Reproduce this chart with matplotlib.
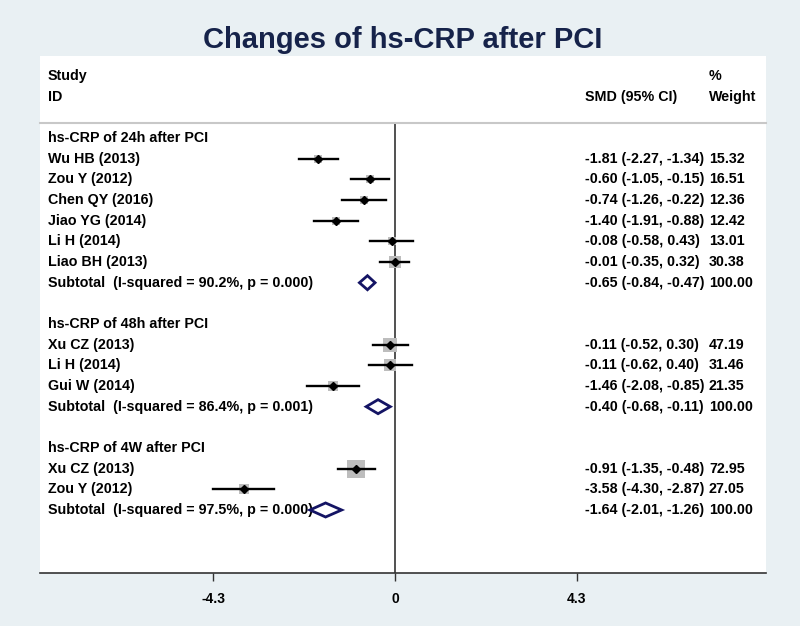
import matplotlib.pyplot as plt
import matplotlib.patches as mpatches
import numpy as np

plt.rcParams['font.family'] = ['Liberation Sans', 'DejaVu Sans']

# study level data
studies = ["Wu HB (2013)", "Zou Y (2012)", "Chen QY (2016)", "Jiao YG (2014)",
           "Li H (2014)", "Liao BH (2013)",
           "Xu CZ (2013)", "Li H (2014)", "Gui W (2014)",
           "Xu CZ (2013)", "Zou Y (2012)"]
smd = [-1.81, -0.60, -0.74, -1.40, -0.08, -0.01, -0.11, -0.11, -1.46, -0.91, -3.58]
lo = [-2.27, -1.05, -1.26, -1.91, -0.58, -0.35, -0.52, -0.62, -2.08, -1.35, -4.30]
hi = [-1.34, -0.15, -0.22, -0.88, 0.43, 0.32, 0.30, 0.40, -0.85, -0.48, -2.87]
weight = [15.32, 16.51, 12.36, 12.42, 13.01, 30.38, 47.19, 31.46, 21.35, 72.95, 27.05]
study_group = [0, 0, 0, 0, 0, 0, 1, 1, 1, 2, 2]

# subgroup data
groups = ["hs-CRP of 24h after PCI", "hs-CRP of 48h after PCI", "hs-CRP of 4W after PCI"]
sub_label = ["Subtotal  (I-squared = 90.2%, p = 0.000)",
             "Subtotal  (I-squared = 86.4%, p = 0.001)",
             "Subtotal  (I-squared = 97.5%, p = 0.000)"]
sub_smd = [-0.65, -0.40, -1.64]
sub_lo = [-0.84, -0.68, -2.01]
sub_hi = [-0.47, -0.11, -1.26]

ticks = [-4.3, 0, 4.3]
tick_labels = ["-4.3", "0", "4.3"]

# row positions
rows_study = []
rows_head = []
rows_sub = []
r = 0
for g in range(len(groups)):
    rows_head.append(r)
    r += 1
    for i in range(len(studies)):
        if study_group[i] == g:
            rows_study.append(r)
            r += 1
    rows_sub.append(r)
    r += 2

bg = '#e9f0f3'
navy = '#16234a'
fig = plt.figure(figsize=(8, 6.26), dpi=100, facecolor=bg)
fig.patches.append(mpatches.Rectangle((40/800, 53/626), 726/800, 517/626,
                                      transform=fig.transFigure, facecolor='white',
                                      edgecolor='none', zorder=-5))
ax = fig.add_axes([40/800, 53/626, 726/800, 450/626])
ax.set_facecolor('white')
ax.set_xlim(-8.39, 8.77)
ax.set_ylim(21.05, -0.73)

fig.text(0.503, 1 - 40/626, "Changes of hs-CRP after PCI", ha='center', va='center',
         fontsize=21, fontweight='heavy', color=navy)

fs = 10.3
x_lab = -8.2
x_ci = 4.49
x_w = 7.42

# header
ax.text(x_lab, -3, "Study", fontsize=fs, fontweight='bold', va='center', clip_on=False)
ax.text(x_lab, -2, "ID", fontsize=fs, fontweight='bold', va='center', clip_on=False)
ax.text(x_ci, -2, "SMD (95% CI)", fontsize=fs, fontweight='bold', va='center', clip_on=False)
ax.text(x_w, -3, "%", fontsize=fs, fontweight='bold', va='center', clip_on=False)
ax.text(x_w, -2, "Weight", fontsize=fs, fontweight='bold', va='center', clip_on=False)

for g, rr in enumerate(rows_head):
    ax.text(x_lab, rr, groups[g], fontsize=fs, fontweight='bold', va='center')

for i, rr in enumerate(rows_study):
    side_pt = 18 * np.sqrt(weight[i] / 72.95) * 0.72
    ax.scatter(smd[i], rr, marker='s', s=side_pt**2, color='#bdbdbd', zorder=2, linewidths=0)
    ax.plot([lo[i], hi[i]], [rr, rr], color='black', lw=1.7, zorder=3)
    ax.plot(smd[i], rr, marker='D', ms=3.8, color='black', zorder=4)
    ax.text(x_lab, rr, studies[i], fontsize=fs, fontweight='bold', va='center')
    ax.text(x_ci, rr, f"{smd[i]:.2f} ({lo[i]:.2f}, {hi[i]:.2f})", fontsize=fs,
            fontweight='bold', va='center')
    ax.text(x_w, rr, f"{weight[i]:.2f}", fontsize=fs, fontweight='bold', va='center')

h = 0.34
for g, rr in enumerate(rows_sub):
    ax.text(x_lab, rr, sub_label[g], fontsize=fs, fontweight='bold', va='center')
    ax.text(x_ci, rr, f"{sub_smd[g]:.2f} ({sub_lo[g]:.2f}, {sub_hi[g]:.2f})", fontsize=fs,
            fontweight='bold', va='center')
    ax.text(x_w, rr, "100.00", fontsize=fs, fontweight='bold', va='center')
    d = mpatches.Polygon([[sub_lo[g], rr], [sub_smd[g], rr - h], [sub_hi[g], rr],
                          [sub_smd[g], rr + h]], closed=True, facecolor='none',
                         edgecolor='#141464', lw=2, zorder=5)
    ax.add_patch(d)

ax.axvline(0, color='#222222', lw=1.1, zorder=1)

for s in ['left', 'right']:
    ax.spines[s].set_visible(False)
ax.spines['top'].set_color('#c8c8c8')
ax.spines['top'].set_linewidth(1.5)
ax.spines['bottom'].set_color('#333333')
ax.spines['bottom'].set_linewidth(1.2)
ax.set_yticks([])
ax.set_xticks(ticks)
ax.set_xticklabels(tick_labels, fontsize=10, fontweight='bold')
ax.tick_params(axis='x', direction='out', length=6, width=1, color='#333333', pad=8)

fig.savefig('out.png', dpi=100, facecolor=bg)
